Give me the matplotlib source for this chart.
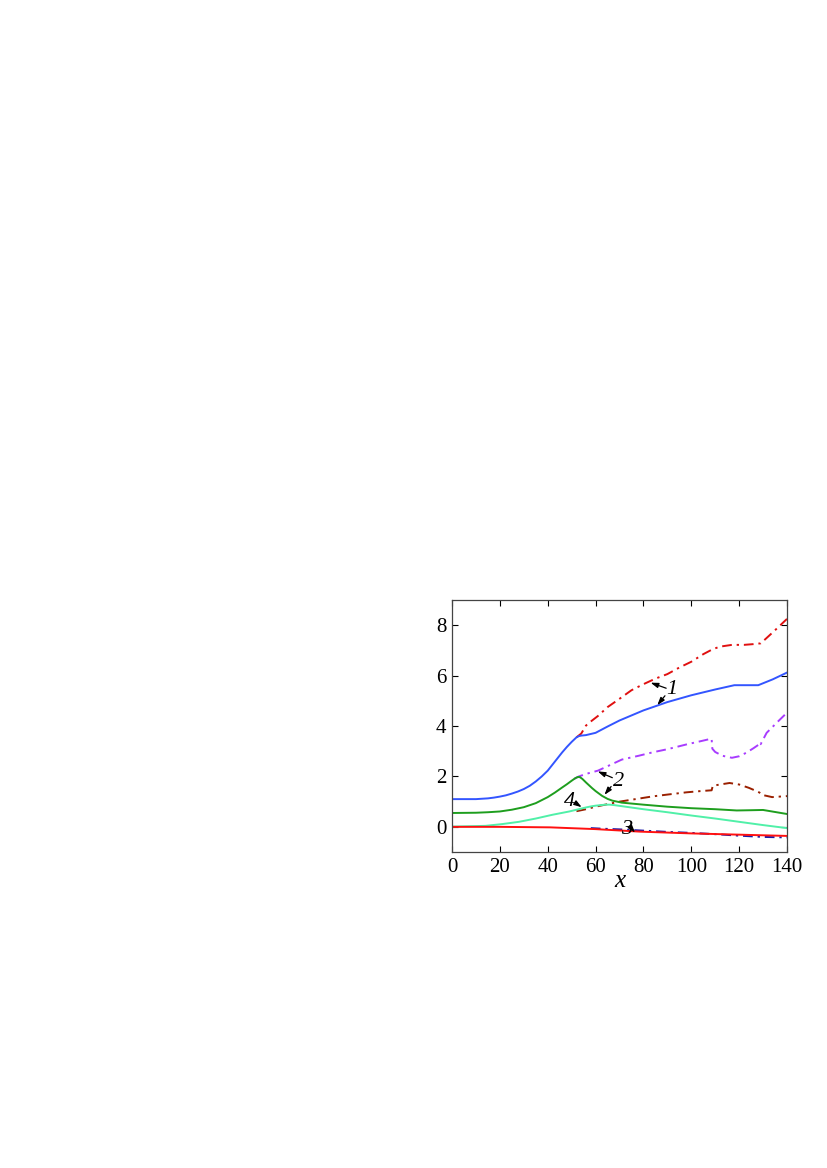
import matplotlib
matplotlib.use('Agg')
import matplotlib.pyplot as plt

# curva 1 (continua, azul)
x1s = [0, 10, 15, 17.5, 20, 22.5, 25, 27.5, 30, 32.5, 35, 37.5, 40, 42, 44, 46, 48, 50, 51, 52, 53, 54,
       56, 60, 65, 70, 80, 90, 100, 110, 118, 128, 134, 140]
y1s = [1.10, 1.10, 1.13, 1.16, 1.20, 1.25, 1.32, 1.40, 1.50, 1.63, 1.80, 2.00, 2.23, 2.47, 2.71, 2.95,
       3.17, 3.37, 3.46, 3.55, 3.60, 3.62, 3.64, 3.73, 3.98, 4.22, 4.62, 4.95, 5.22, 5.45, 5.62, 5.62,
       5.85, 6.12]
# curva 1 (punto-raya, roja)
x1d = [52, 54, 56, 58, 61, 65, 70, 75, 80, 85, 90, 95, 100, 105, 109, 112, 117, 122, 126, 129, 131, 135, 140]
y1d = [3.55, 3.70, 4.02, 4.18, 4.40, 4.75, 5.08, 5.42, 5.66, 5.88, 6.06, 6.32, 6.55, 6.85, 7.05, 7.15,
       7.22, 7.22, 7.25, 7.28, 7.45, 7.80, 8.25]

# curva 2 (continua, verde)
x2s = [0, 10, 15, 20, 25, 30, 35, 40, 43, 46, 48, 50, 51.5, 52.6, 53.5, 54.5, 56, 58.5, 60, 62.7, 65, 67,
       71, 80, 90, 100, 110, 119, 125, 130, 135, 140]
y2s = [0.55, 0.56, 0.58, 0.61, 0.68, 0.78, 0.94, 1.18, 1.36, 1.56, 1.69, 1.83, 1.93, 1.98, 1.97, 1.90,
       1.76, 1.54, 1.42, 1.23, 1.11, 1.04, 0.96, 0.88, 0.80, 0.74, 0.70, 0.65, 0.66, 0.67, 0.59, 0.51]
# curva 2 (punto-raya, violeta)
x2d = [51, 53, 56, 61, 66, 71, 78, 84, 90, 98, 104, 108.5, 108.8, 110, 113, 117, 120, 123, 126, 128,
       128.4, 129, 131.5, 135.7, 140]
y2d = [1.90, 2.00, 2.10, 2.23, 2.45, 2.67, 2.82, 2.96, 3.08, 3.27, 3.40, 3.50, 3.10, 2.97, 2.82, 2.74,
       2.80, 2.94, 3.12, 3.25, 3.35, 3.28, 3.73, 4.13, 4.53]

# curva 3 (continua, roja)
x3s = [0, 20, 41, 60, 78.6, 100, 120, 140]
y3s = [0.0, 0.0, -0.02, -0.09, -0.19, -0.26, -0.31, -0.36]
# curva 3 (punto-raya, azul oscuro)
x3d = [58, 62, 70, 80, 90, 100, 110, 120, 130, 140]
y3d = [-0.05, -0.07, -0.10, -0.15, -0.20, -0.24, -0.29, -0.35, -0.40, -0.42]

# curva 4 (continua, verde claro)
x4s = [0, 10, 14, 21, 28, 35, 42, 49, 56, 58, 60, 62, 64, 66, 68, 71, 80, 90, 100, 110, 120, 130, 140]
y4s = [0.01, 0.03, 0.04, 0.11, 0.20, 0.33, 0.48, 0.61, 0.77, 0.81, 0.84, 0.86, 0.88, 0.88, 0.86, 0.82,
       0.70, 0.58, 0.45, 0.33, 0.20, 0.07, -0.05]
# curva 4 (punto-raya, marron)
x4d = [52, 56, 60, 64, 70, 78, 84, 90, 98, 104, 108.5, 109, 112, 116, 120, 124, 127.5, 128.5, 129.5,
       133.8, 140]
y4d = [0.62, 0.70, 0.80, 0.88, 1.00, 1.12, 1.21, 1.28, 1.37, 1.42, 1.45, 1.63, 1.68, 1.74, 1.68, 1.55,
       1.41, 1.36, 1.27, 1.18, 1.22]

xticks = [0, 20, 40, 60, 80, 100, 120, 140]
yticks = [0, 2, 4, 6, 8]

plt.rcParams['font.family'] = ['Liberation Serif', 'DejaVu Serif']

fig = plt.figure(figsize=(8.27, 11.68), dpi=100)
ax = fig.add_axes([0.5466, 0.2705, 0.405, 0.2158])

dd = (5, 2.5, 1.2, 2.5)
lw = 1.4
ax.plot(x1d, y1d, color='#e01010', lw=lw, dashes=dd)
ax.plot(x2d, y2d, color='#a83cff', lw=lw, dashes=dd)
ax.plot(x4d, y4d, color='#9a2000', lw=lw, dashes=dd)
ax.plot(x3d, y3d, color='#1a1aa8', lw=lw, dashes=dd)
ax.plot(x1s, y1s, color='#3355ff', lw=lw)
ax.plot(x2s, y2s, color='#1e9e1e', lw=lw)
ax.plot(x4s, y4s, color='#50f0a8', lw=lw)
ax.plot(x3s, y3s, color='#ff1010', lw=lw)

# etiquetas con flechas
arr = dict(arrowstyle='-|>,head_length=0.45,head_width=0.15', color='black', lw=0.9,
           shrinkA=0, shrinkB=0)
lab = dict(fontsize=16, style='italic', ha='center', va='center')
ax.text(91.8, 5.46, '1', **lab)
ax.annotate('', xy=(83, 5.72), xytext=(89.5, 5.5), arrowprops=arr)
ax.annotate('', xy=(85.8, 4.83), xytext=(89, 5.2), arrowprops=arr)
ax.text(69.5, 1.8, '2', **lab)
ax.annotate('', xy=(60.9, 2.2), xytext=(67, 1.95), arrowprops=arr)
ax.annotate('', xy=(63.7, 1.27), xytext=(66.5, 1.6), arrowprops=arr)
ax.text(49.3, 1.01, '4', **lab)
ax.annotate('', xy=(54.2, 0.78), xytext=(51.5, 0.95), arrowprops=arr)
ax.text(73, -0.1, '3', **lab)
ax.annotate('', xy=(76.5, -0.23), xytext=(74.5, 0.0), arrowprops=arr)

ax.set_xlim(0, 140)
ax.set_ylim(-1, 9)
ax.set_xticks(xticks)
ax.set_yticks(yticks)
ax.tick_params(direction='in', top=True, right=True, length=4, width=0.8, labelsize=15, pad=4)
for s in ax.spines.values():
    s.set_color('#444444')
    s.set_linewidth(0.9)
ax.set_xlabel('x', fontsize=18, style='italic', labelpad=-5)

fig.savefig('out.png', dpi=100)
